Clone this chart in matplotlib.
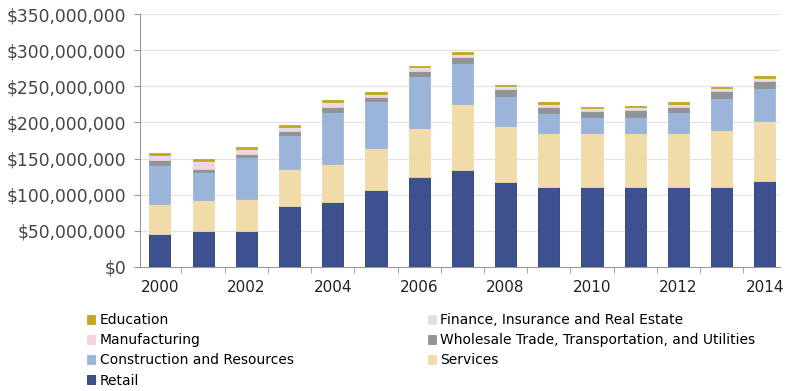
import matplotlib.pyplot as plt
import numpy as np
from matplotlib.ticker import FuncFormatter, FixedLocator

# Sales by sector, in millions of dollars
years = list(range(2000, 2015))
retail = [46, 50, 50, 84, 90, 106, 124, 134, 118, 111, 110, 110, 111, 111, 119]
services = [41, 42, 44, 51, 53, 59, 68, 92, 77, 74, 75, 75, 75, 79, 83]
construction = [54, 39, 58, 48, 72, 64, 72, 56, 42, 28, 23, 23, 28, 44, 46]
wholesale = [7, 5, 4, 5, 7, 6, 7, 8, 9, 9, 8, 9, 8, 9, 9]
manufacturing = [4, 8, 4, 3, 3, 3, 3, 3, 2, 2, 2, 2, 2, 2, 2]
finance = [3, 3, 3, 3, 3, 2, 2, 2, 2, 2, 2, 2, 2, 2, 3]
education = [3, 3, 3, 2, 3, 2, 2, 2, 2, 2, 2, 2, 2, 2, 2]

series = [
    ("Retail", retail, "#3d5190"),
    ("Services", services, "#f1dca9"),
    ("Construction and Resources", construction, "#9ab5d9"),
    ("Wholesale Trade, Transportation, and Utilities", wholesale, "#8f9595"),
    ("Manufacturing", manufacturing, "#f2d3de"),
    ("Finance, Insurance and Real Estate", finance, "#dfe0e6"),
    ("Education", education, "#c2a820"),
]

fig = plt.figure(figsize=(7.88, 3.91), dpi=100)
ax = fig.add_axes([140 / 788, 1 - 267 / 391, 640 / 788, 253 / 391])

x = np.arange(len(years))
bottom = np.zeros(len(years))
handles = {}
for name, vals, color in series:
    vals = np.array(vals) * 1e6
    edge = "#2b3a72" if name == "Retail" else color
    b = ax.bar(x, vals, width=0.49, bottom=bottom, color=color,
               edgecolor=edge, linewidth=0.6, zorder=3)
    handles[name] = b
    bottom += vals

ax.set_ylim(0, 350e6)
ax.set_xlim(-0.46, 14.35)
ax.set_yticks(np.arange(0, 350e6 + 1, 50e6))
ax.yaxis.set_major_formatter(FuncFormatter(lambda v, p: f"${v:,.0f}"))
ax.grid(axis="y", color="#e2e2e2", linewidth=0.8, zorder=0)

# year labels on every other bar, tick marks between categories
ax.set_xticks(x[::2])
ax.set_xticklabels([str(y) for y in years[::2]])
ax.tick_params(axis="x", length=0, pad=9, labelsize=11, labelcolor="#222222")
ax.xaxis.set_minor_locator(FixedLocator(x[:-1] + 0.5))
ax.tick_params(axis="x", which="minor", length=4, color="#999999")
ax.tick_params(axis="y", length=4, color="#999999", labelsize=12.3,
               labelcolor="#444444", pad=6)

for side in ["top", "right"]:
    ax.spines[side].set_visible(False)
ax.spines["left"].set_color("#999999")
ax.spines["bottom"].set_color("#999999")

# legend in two columns under the chart
legend_font = {"family": ["Liberation Sans Narrow", "DejaVu Sans"], "size": 10}
col1 = ["Education", "Manufacturing", "Construction and Resources", "Retail"]
col2 = ["Finance, Insurance and Real Estate",
        "Wholesale Trade, Transportation, and Utilities", "Services"]
for names, xpos in [(col1, 87 / 788), (col2, 428 / 788)]:
    fig.legend([handles[n] for n in names], names, loc="upper left",
               bbox_to_anchor=(xpos, 1 - 313 / 391), frameon=False,
               prop=legend_font, handlelength=0.6, handleheight=0.6,
               handletextpad=0.3, labelspacing=0.45, borderpad=0,
               borderaxespad=0)

plt.savefig("out.png", dpi=100)
